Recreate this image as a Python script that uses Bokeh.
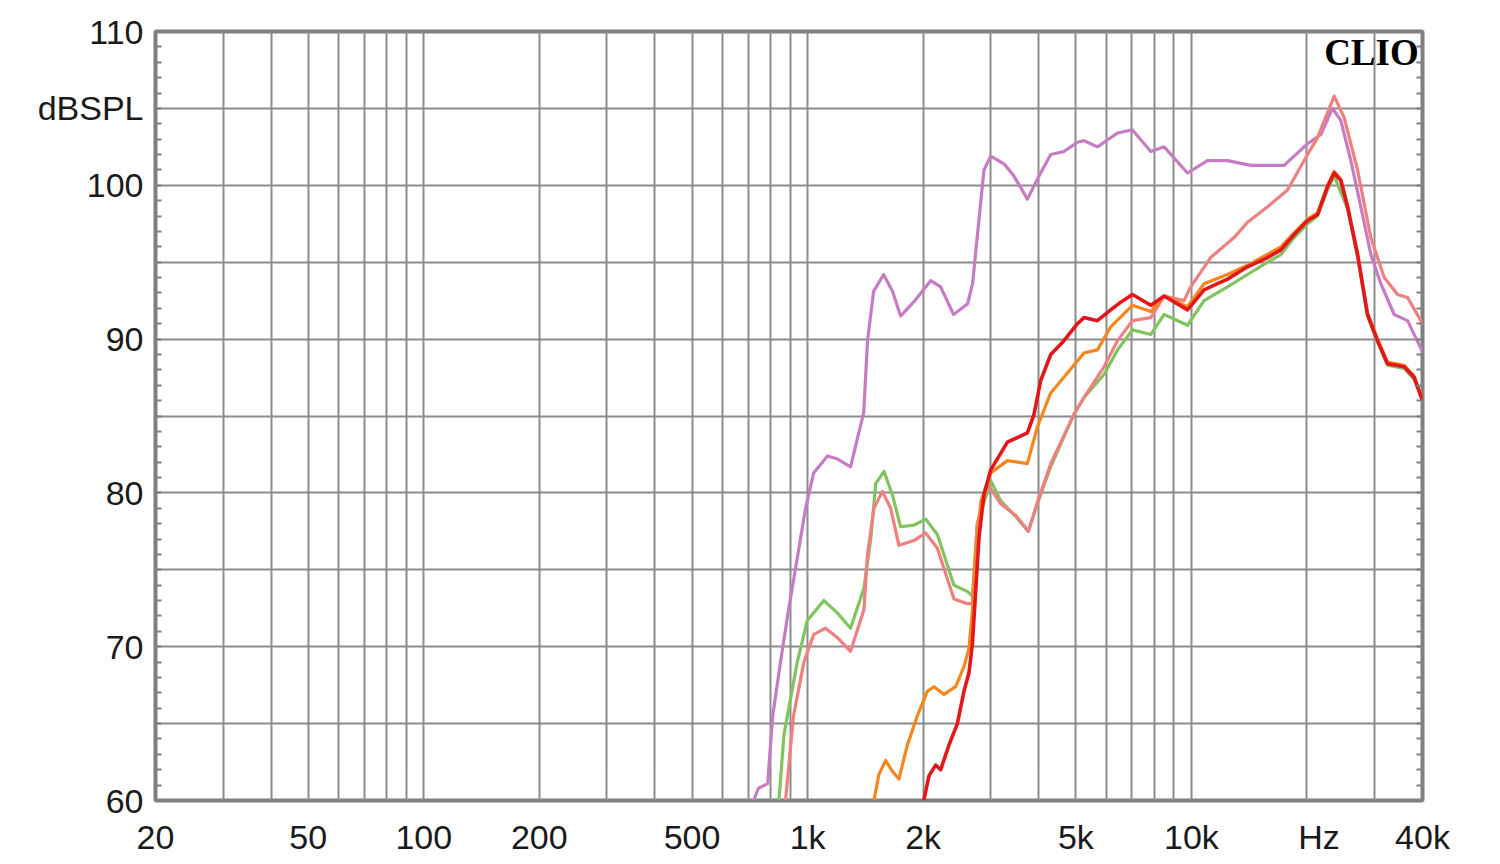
from bokeh.plotting import figure
from bokeh.models import FixedTicker, LinearAxis, Label
from bokeh.embed import file_html
from bokeh.resources import INLINE

# ---------------- data ----------------
violet_f = [723, 745, 787, 811, 850, 892, 942, 988, 1037, 1127, 1197, 1294, 1350, 1400, 1433, 1486,
            1578, 1665, 1747, 1889, 2092, 2221, 2401, 2612, 2691, 2740, 2881, 3000, 3248, 3449, 3738,
            4008, 4300, 4656, 5047, 5250, 5690, 6420, 7020, 7840, 8490, 9770, 11010, 12420, 14280,
            17440, 20070, 21740, 23310, 24510, 26020, 27630, 29340, 31150, 33750, 36560, 39600, 40000]
violet_db = [60.0, 60.8, 61.1, 65.5, 69.0, 72.4, 75.9, 79.0, 81.3, 82.4, 82.2, 81.7, 83.6, 85.2, 89.9, 93.1,
             94.2, 93.1, 91.5, 92.4, 93.8, 93.4, 91.6, 92.3, 93.6, 95.6, 101.0, 101.9, 101.4, 100.6, 99.1,
             100.6, 102.0, 102.2, 102.8, 102.9, 102.5, 103.4, 103.6, 102.2, 102.5, 100.8, 101.6, 101.6, 101.3,
             101.3, 102.7, 103.3, 105.0, 104.2, 101.6, 98.6, 95.5, 93.6, 91.6, 91.2, 89.4, 89.1]

green_f = [842, 868, 940, 998, 1103, 1195, 1294, 1402, 1462, 1505, 1581, 1662, 1747, 1893, 2030, 2178,
           2406, 2606, 2688, 2768, 3000, 3184, 3500, 3760, 3970, 4300, 4940, 5250, 5920, 6420, 7020,
           7840, 8490, 9770, 10790, 12420, 14000, 15790, 17100, 18520, 20070, 21310, 22620, 23550,
           25510, 27090, 28760, 30540, 32430, 35840, 38050, 40000]
green_db = [60.0, 64.3, 69.0, 71.7, 73.0, 72.2, 71.2, 73.8, 77.1, 80.6, 81.4, 79.9, 77.8, 77.9, 78.3, 77.3,
            74.0, 73.6, 73.3, 78.0, 80.8, 79.5, 78.4, 77.5, 79.3, 81.7, 85.1, 86.2, 87.7, 89.3, 90.6,
            90.3, 91.6, 90.9, 92.5, 93.4, 94.2, 95.0, 95.5, 96.6, 97.5, 98.0, 99.7, 100.6,
            98.5, 95.4, 91.5, 89.8, 88.3, 88.1, 87.4, 86.0]

pink_f = [876, 919, 978, 1038, 1114, 1195, 1294, 1402, 1431, 1489, 1566, 1646, 1729, 1893, 2030, 2178,
          2406, 2606, 2688, 2768, 2940, 3184, 3500, 3760, 3970, 4300, 4940, 5250, 5920, 6420, 7020,
          7840, 8490, 9570, 9960, 11220, 12920, 14000, 15790, 17800, 20070, 21310, 23550, 25000,
          27090, 29340, 31790, 34430, 36560, 39600, 40000]
pink_db = [60.0, 65.5, 69.0, 70.8, 71.2, 70.6, 69.7, 72.4, 75.9, 79.0, 80.1, 79.0, 76.6, 76.9, 77.4, 76.4,
           73.1, 72.8, 72.8, 78.0, 80.6, 79.3, 78.5, 77.5, 79.4, 81.9, 85.1, 86.2, 88.2, 89.9, 91.2,
           91.4, 92.8, 92.5, 93.4, 95.3, 96.6, 97.6, 98.6, 99.7, 102.0, 103.1, 105.8, 104.4,
           101.0, 96.6, 94.0, 92.9, 92.7, 91.2, 90.9]

orange_f = [1489, 1534, 1597, 1662, 1730, 1819, 1931, 2051, 2134, 2266, 2431, 2555, 2633, 2688, 2741,
            2825, 3000, 3316, 3738, 3970, 4300, 4753, 5250, 5690, 6162, 7020, 7840, 8490, 9770, 10790,
            12420, 14000, 17100, 18520, 20070, 21310, 22620, 23550, 24510, 25510, 27090, 28760, 30540,
            32430, 35840, 38050, 40000]
orange_db = [60.0, 61.7, 62.6, 61.9, 61.4, 63.6, 65.5, 67.1, 67.4, 66.9, 67.4, 68.7, 69.9, 72.4, 75.9,
             79.4, 81.3, 82.1, 81.9, 84.3, 86.5, 87.8, 89.1, 89.3, 90.8, 92.2, 91.8, 92.8, 92.1, 93.6,
             94.2, 94.8, 96.0, 96.9, 97.8, 98.2, 100.0, 100.9, 100.4, 98.7, 95.6, 91.7, 90.0,
             88.5, 88.3, 87.6, 86.1]

red_f = [2008, 2071, 2156, 2222, 2335, 2456, 2555, 2633, 2688, 2741, 2796, 2881, 3000, 3316, 3738, 3890,
         4048, 4300, 4656, 5047, 5250, 5690, 6162, 6545, 7020, 7840, 8490, 9770, 10790, 11690, 12420,
         14000, 15790, 17100, 18520, 20070, 21310, 22620, 23550, 24510, 25510, 27090, 28760, 30540,
         32430, 35840, 38050, 40000]
red_db = [60.0, 61.6, 62.3, 62.0, 63.6, 65.0, 67.1, 68.3, 70.2, 73.6, 77.1, 79.9, 81.5, 83.3, 83.9, 85.1,
          87.3, 89.0, 89.9, 91.0, 91.4, 91.2, 91.9, 92.4, 92.9, 92.2, 92.8, 91.9, 93.2, 93.6, 93.9,
          94.7, 95.3, 95.8, 96.8, 97.7, 98.1, 99.9, 100.8, 100.3, 98.6, 95.5, 91.6, 89.9,
          88.4, 88.2, 87.5, 86.0]

x_grid = [20, 30, 40, 50, 60, 70, 80, 90, 100, 200, 300, 400, 500, 600, 700, 800, 900,
          1000, 2000, 3000, 4000, 5000, 6000, 7000, 8000, 9000, 10000, 20000, 30000, 40000]
x_tick_values = [20, 50, 100, 200, 500, 1000, 2000, 5000, 10000, 21500, 40000]
x_tick_labels = ["20", "50", "100", "200", "500", "1k", "2k", "5k", "10k", "Hz", "40k"]
y_grid = [60, 65, 70, 75, 80, 85, 90, 95, 100, 105, 110]
y_tick_values = [60, 70, 80, 90, 100, 105, 110]
y_tick_labels = ["60", "70", "80", "90", "100", "dBSPL", "110"]
y_minor = list(range(60, 111))

# ---------------- figure ----------------
p = figure(width=1484, height=858, x_axis_type="log", x_range=(20, 40000), y_range=(60, 110),
           output_backend="svg", toolbar_location=None,
           min_border_left=155, min_border_top=31, min_border_right=62, min_border_bottom=58)
p.background_fill_color = "white"
p.border_fill_color = "white"
p.outline_line_color = "#808080"
p.outline_line_width = 4

p.xgrid.ticker = FixedTicker(ticks=x_grid)
p.ygrid.ticker = FixedTicker(ticks=y_grid)
for g in (p.xgrid, p.ygrid):
    g.grid_line_color = "#8c8c8c"
    g.grid_line_width = 2
    g.grid_line_alpha = 1.0

font = "Liberation Sans"
fsize = "34px"

xa = p.xaxis[0]
xa.ticker = FixedTicker(ticks=x_tick_values)
xa.major_label_overrides = {v: s for v, s in zip(x_tick_values, x_tick_labels)}
xa.major_tick_in = 0
xa.major_tick_out = 0
xa.minor_tick_in = 0
xa.minor_tick_out = 0
xa.axis_line_color = None
xa.major_label_text_font = font
xa.major_label_text_font_size = fsize
xa.major_label_text_color = "#1a1a1a"
xa.major_label_standoff = 17

ya = p.yaxis[0]
ya.ticker = FixedTicker(ticks=y_tick_values, minor_ticks=y_minor)
ya.major_label_overrides = {v: s for v, s in zip(y_tick_values, y_tick_labels)}
ya.major_tick_in = 0
ya.major_tick_out = 0
ya.minor_tick_in = 6
ya.minor_tick_out = 0
ya.minor_tick_line_color = "#808080"
ya.minor_tick_line_width = 2
ya.axis_line_color = None
ya.major_label_text_font = font
ya.major_label_text_font_size = fsize
ya.major_label_text_color = "#1a1a1a"
ya.major_label_standoff = 12

ra = LinearAxis(ticker=FixedTicker(ticks=y_tick_values, minor_ticks=y_minor))
ra.major_tick_in = 0
ra.major_tick_out = 0
ra.minor_tick_in = 6
ra.minor_tick_out = 0
ra.minor_tick_line_color = "#808080"
ra.minor_tick_line_width = 2
ra.axis_line_color = None
ra.major_label_text_font_size = "0px"
ra.major_label_text_color = None
ra.major_label_standoff = 0
p.add_layout(ra, "right")

series = [
    (violet_f, violet_db, "#c57cc3", 3.2),
    (green_f, green_db, "#80c35f", 3.2),
    (pink_f, pink_db, "#f07f80", 3.2),
    (orange_f, orange_db, "#f6861d", 3.2),
    (red_f, red_db, "#e3171b", 3.6),
]
for fx, dby, col, lw in series:
    p.line(fx, dby, line_color=col, line_width=lw, line_join="round")

clio = Label(x=39100, y=110, text="CLIO", text_align="right", text_baseline="top",
             text_font="Liberation Serif", text_font_style="bold", text_font_size="37px",
             text_color="black")
p.add_layout(clio)

open("out.html", "w").write(file_html(p, INLINE))
